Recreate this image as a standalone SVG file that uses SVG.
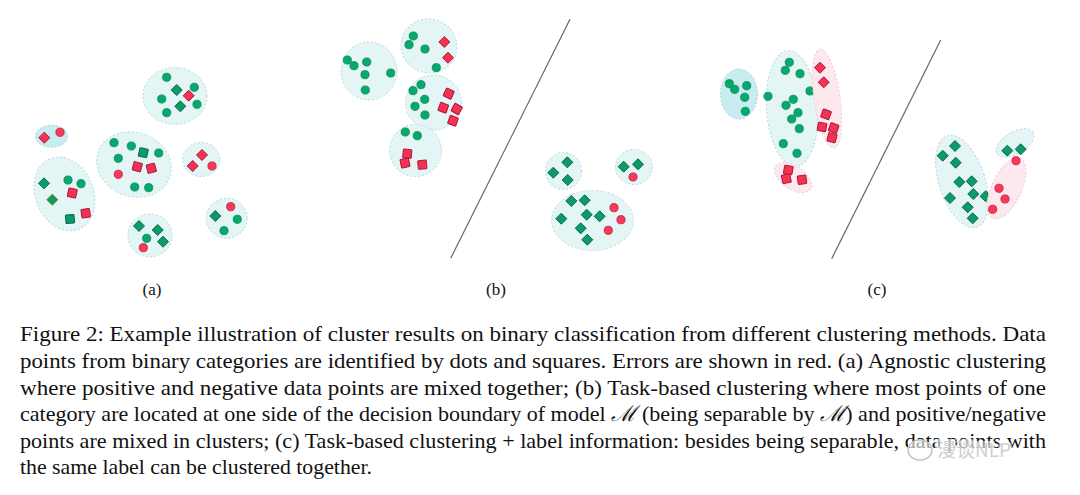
<svg xmlns="http://www.w3.org/2000/svg" xmlns:xlink="http://www.w3.org/1999/xlink" width="1080" height="495" viewBox="0 0 1080 495">
<style>
.cl{fill:#e3f5f5;stroke:#b9d9dc;stroke-width:1;stroke-dasharray:2 2}
.cd{fill:#c9ecf0;stroke:#a9d3d9;stroke-width:1;stroke-dasharray:2 2}
.cp{fill:#fde8ee;stroke:#f0c8d4;stroke-width:1;stroke-dasharray:2 2}
.g{fill:#06a86c;stroke:#0a8a58;stroke-width:0.8}
.gd{fill:#0b9a68;stroke:#086a47;stroke-width:1}
.r{fill:#f73a55;stroke:#c0184a;stroke-width:0.8}
.rd{fill:#f5334f;stroke:#a8164a;stroke-width:1}
.line{stroke:#666;stroke-width:1.2;fill:none}
.lab{font-family:"Liberation Serif",serif;font-size:17px;fill:#111}
.cap{font-family:"Liberation Serif",serif;font-size:21.8px;fill:#111}
</style>
<defs>
<circle id="c" r="4.1"/>
<polygon id="d" points="0,-5.5 5.5,0 0,5.5 -5.5,0"/>
<rect id="s" x="-4.3" y="-4.3" width="8.6" height="8.6" rx="0.8"/>
</defs>
<rect width="1080" height="495" fill="#fff"/>

<!-- Panel (a) -->
<g id="a-c1">
<ellipse class="cl" cx="175" cy="96" rx="32" ry="28.5"/>
<use href="#c" class="g" x="166.7" y="77.3"/>
<use href="#d" class="gd" x="176.7" y="90"/>
<use href="#c" class="g" x="194.3" y="87.3"/>
<use href="#d" class="rd" x="188.7" y="95.7"/>
<use href="#c" class="g" x="161.7" y="99"/>
<use href="#d" class="gd" x="180.3" y="106.3"/>
<use href="#c" class="g" x="197" y="104.3"/>
<use href="#c" class="g" x="166.7" y="112.7"/>
</g>
<g id="a-c2">
<ellipse class="cd" cx="51.5" cy="136.3" rx="16" ry="11"/>
<use href="#d" class="rd" x="44.3" y="137.7"/>
<use href="#c" class="r" x="60" y="132.3"/>
</g>
<g id="a-c3">
<ellipse class="cl" cx="134" cy="164.5" rx="38" ry="32" transform="rotate(20 134 164.5)"/>
<use href="#c" class="g" x="114" y="142.7"/>
<use href="#c" class="g" x="131.3" y="146"/>
<use href="#s" class="gd" transform="translate(143.3 152.7) rotate(12)"/>
<use href="#c" class="g" x="158.7" y="153"/>
<use href="#c" class="g" x="118.3" y="158.3"/>
<use href="#s" class="rd" transform="translate(137.3 166.7) rotate(15)"/>
<use href="#s" class="rd" transform="translate(151.3 168.3) rotate(-15)"/>
<use href="#c" class="r" x="118.3" y="174.3"/>
<use href="#c" class="g" x="134.7" y="187"/>
<use href="#c" class="g" x="148.7" y="187.7"/>
</g>
<g id="a-c4">
<ellipse class="cl" cx="201.3" cy="159.5" rx="18.5" ry="17"/>
<use href="#d" class="rd" x="202" y="155"/>
<use href="#d" class="rd" x="192.7" y="166"/>
<use href="#c" class="r" x="212" y="166"/>
</g>
<g id="a-c5">
<ellipse class="cl" cx="64.5" cy="194" rx="29" ry="38" transform="rotate(-22 64.5 194)"/>
<use href="#d" class="gd" x="44" y="183.3"/>
<use href="#c" class="g" x="68" y="180"/>
<use href="#c" class="g" x="81" y="183.7"/>
<use href="#s" class="rd" transform="translate(72.3 193) rotate(12)"/>
<use href="#d" class="gd" x="52.3" y="199.7" style="stroke:#6f8a10"/>
<use href="#s" class="gd" transform="translate(70 219) rotate(-5)"/>
<use href="#s" class="rd" transform="translate(85.7 213.3) rotate(-8)"/>
</g>
<g id="a-c6">
<ellipse class="cl" cx="150" cy="235.5" rx="22" ry="21.5"/>
<use href="#d" class="gd" x="139" y="226"/>
<use href="#d" class="gd" x="157.7" y="230"/>
<use href="#c" class="g" x="146.7" y="238.3"/>
<use href="#d" class="gd" x="163" y="241.7"/>
<use href="#c" class="r" x="143.3" y="247.7"/>
</g>
<g id="a-c7">
<ellipse class="cl" cx="226.7" cy="218.3" rx="20.5" ry="20"/>
<use href="#c" class="r" x="230.7" y="206.7"/>
<use href="#d" class="gd" x="215.3" y="216"/>
<use href="#c" class="g" x="237.3" y="219.3"/>
<use href="#c" class="g" x="224" y="230.7"/>
</g>

<!-- Decision boundaries -->
<g id="connectors">
<line class="line" x1="570" y1="19.3" x2="450.7" y2="258.3"/>
<line class="line" x1="940.7" y1="40" x2="831.7" y2="258.7"/>
</g>

<!-- Panel (b) -->
<g id="b-c1">
<ellipse class="cl" cx="369" cy="71" rx="28" ry="29"/>
<use href="#c" class="g" x="347.3" y="60"/>
<use href="#c" class="g" x="354" y="65.7"/>
<use href="#c" class="g" x="366.7" y="62"/>
<use href="#c" class="g" x="365" y="74.7"/>
<use href="#c" class="g" x="390.7" y="73"/>
<use href="#c" class="g" x="365.3" y="90"/>
</g>
<g id="b-c2">
<ellipse class="cl" cx="429" cy="46" rx="28" ry="27" transform="rotate(20 429 46)"/>
<use href="#c" class="g" x="413.3" y="36"/>
<use href="#c" class="g" x="409" y="44.7"/>
<use href="#c" class="g" x="425" y="49"/>
<use href="#d" class="rd" x="444.3" y="42"/>
<use href="#d" class="rd" x="448" y="57.7"/>
<use href="#c" class="g" x="436.3" y="67.7"/>
</g>
<g id="b-c3">
<ellipse class="cl" cx="433.5" cy="102.5" rx="28" ry="27.5"/>
<use href="#c" class="g" x="421" y="84.7"/>
<use href="#c" class="g" x="413" y="90.7"/>
<use href="#c" class="g" x="424.7" y="99.3"/>
<use href="#c" class="g" x="415" y="106.3"/>
<use href="#c" class="g" x="425" y="115"/>
<use href="#s" class="rd" transform="translate(448.7 93.7) rotate(25)"/>
<use href="#s" class="rd" transform="translate(443.3 107.7) rotate(20)"/>
<use href="#s" class="rd" transform="translate(456.7 109) rotate(30)"/>
<use href="#s" class="rd" transform="translate(453 120.7) rotate(20)"/>
</g>
<g id="b-c4">
<ellipse class="cl" cx="415.5" cy="150.5" rx="26" ry="26"/>
<use href="#c" class="g" x="405.3" y="132"/>
<use href="#c" class="g" x="417.3" y="135.7"/>
<use href="#s" class="rd" transform="translate(407.3 153.7) rotate(5)"/>
<use href="#s" class="rd" transform="translate(405 163) rotate(-12)"/>
<use href="#s" class="rd" transform="translate(422.3 164.7) rotate(-5)"/>
</g>
<g id="b-c5">
<ellipse class="cl" cx="563.5" cy="171" rx="18" ry="18.5"/>
<use href="#d" class="gd" x="567.3" y="162.3"/>
<use href="#d" class="gd" x="553.3" y="172.7"/>
<use href="#d" class="gd" x="567.7" y="180"/>
</g>
<g id="b-c6">
<ellipse class="cl" cx="634" cy="167" rx="18.5" ry="17.5"/>
<use href="#d" class="gd" x="623.7" y="166.7"/>
<use href="#d" class="gd" x="638" y="164.3"/>
<use href="#c" class="r" x="633" y="177"/>
</g>
<g id="b-c7">
<ellipse class="cl" cx="592.5" cy="220.5" rx="41" ry="30"/>
<use href="#d" class="gd" x="571.3" y="201"/>
<use href="#d" class="gd" x="584.7" y="200.3"/>
<use href="#d" class="gd" x="586.7" y="214.7"/>
<use href="#d" class="gd" x="599.7" y="216.3"/>
<use href="#d" class="gd" x="561.3" y="218.7"/>
<use href="#d" class="gd" x="580.7" y="228.3"/>
<use href="#d" class="gd" x="587.3" y="239.7"/>
<use href="#c" class="r" x="614" y="207.7"/>
<use href="#c" class="r" x="621" y="219.7"/>
<use href="#c" class="r" x="608.3" y="230.3"/>
</g>

<!-- Panel (c) -->
<g id="c-c1">
<ellipse class="cd" cx="739" cy="94" rx="18.5" ry="25"/>
<use href="#c" class="g" x="729.3" y="83.7"/>
<use href="#c" class="g" x="734.7" y="89.3"/>
<use href="#c" class="g" x="746.7" y="85.7"/>
<use href="#c" class="g" x="744.7" y="97.3"/>
<use href="#c" class="g" x="745.3" y="111.3"/>
</g>
<g id="c-c2">
<ellipse class="cl" cx="792" cy="108.5" rx="25.5" ry="58" transform="rotate(-4 792 108.5)"/>
<use href="#c" class="g" x="789.3" y="62.3"/>
<use href="#c" class="g" x="785.3" y="70.3"/>
<use href="#c" class="g" x="800" y="73.7"/>
<use href="#c" class="g" x="768" y="96.3"/>
<use href="#c" class="g" x="810" y="91"/>
<use href="#c" class="g" x="793.3" y="99.3"/>
<use href="#c" class="g" x="786" y="105.3"/>
<use href="#c" class="g" x="798" y="112.7"/>
<use href="#c" class="g" x="791.7" y="119"/>
<use href="#c" class="g" x="799.3" y="128.7"/>
<use href="#c" class="g" x="783.3" y="143.7"/>
<use href="#c" class="g" x="797" y="153.3"/>
</g>
<g id="c-c3">
<ellipse class="cp" cx="827" cy="98.5" rx="13" ry="50" transform="rotate(-8 827 98.5)"/>
<use href="#d" class="rd" x="820" y="67.7"/>
<use href="#d" class="rd" x="823.7" y="82.3"/>
<use href="#s" class="rd" transform="translate(826 114.3) rotate(20)"/>
<use href="#s" class="rd" transform="translate(822 127) rotate(10)"/>
<use href="#s" class="rd" transform="translate(833.7 128) rotate(20)"/>
<use href="#s" class="rd" transform="translate(832 137.7) rotate(15)"/>
</g>
<g id="c-c4">
<ellipse class="cp" cx="793" cy="177.5" rx="21" ry="11.5" transform="rotate(33 793 177.5)"/>
<use href="#s" class="rd" transform="translate(788.3 170) rotate(10)"/>
<use href="#s" class="rd" transform="translate(786.3 178.7) rotate(-12)"/>
<use href="#s" class="rd" transform="translate(802 179.7) rotate(-8)"/>
</g>
<g id="c-c5">
<ellipse class="cl" cx="962" cy="181.5" rx="23" ry="48" transform="rotate(-18 962 181.5)"/>
<use href="#d" class="gd" x="955" y="146"/>
<use href="#d" class="gd" x="942.7" y="155.7"/>
<use href="#d" class="gd" x="955.7" y="162.7"/>
<use href="#d" class="gd" x="959.3" y="182"/>
<use href="#d" class="gd" x="971.7" y="181.3"/>
<use href="#d" class="gd" x="973.3" y="194"/>
<use href="#d" class="gd" x="985.7" y="196.3"/>
<use href="#d" class="gd" x="950" y="198"/>
<use href="#d" class="gd" x="967.7" y="207.3"/>
<use href="#d" class="gd" x="972.7" y="218.3"/>
</g>
<g id="c-c6">
<ellipse class="cl" cx="1015" cy="143" rx="21" ry="11" transform="rotate(-30 1015 143)"/>
<use href="#d" class="gd" x="1007.3" y="150.7"/>
<use href="#d" class="gd" x="1020.7" y="149.3"/>
</g>
<g id="c-c7">
<ellipse class="cp" cx="1006.5" cy="188.5" rx="15" ry="33" transform="rotate(25 1006.5 188.5)"/>
<use href="#c" class="r" x="1016" y="160.7"/>
<use href="#c" class="r" x="999" y="188.3"/>
<use href="#c" class="r" x="1005" y="199"/>
<use href="#c" class="r" x="992.7" y="209.3"/>
</g>

<!-- Panel labels -->
<g id="labels">
<text class="lab" x="152" y="295" text-anchor="middle">(a)</text>
<text class="lab" x="496" y="295" text-anchor="middle">(b)</text>
<text class="lab" x="877" y="295" text-anchor="middle">(c)</text>
</g>

<!-- Caption -->
<g id="caption" class="cap">
<text x="20" y="341" textLength="1026" lengthAdjust="spacingAndGlyphs">Figure 2: Example illustration of cluster results on binary classification from different clustering methods. Data</text>
<text x="20" y="368" textLength="1026" lengthAdjust="spacingAndGlyphs">points from binary categories are identified by dots and squares. Errors are shown in red. (a) Agnostic clustering</text>
<text x="20" y="395" textLength="1026" lengthAdjust="spacingAndGlyphs">where positive and negative data points are mixed together; (b) Task-based clustering where most points of one</text>
<text x="20" y="421" textLength="1026" lengthAdjust="spacingAndGlyphs">category are located at one side of the decision boundary of model <tspan font-style="italic">ℳ</tspan> (being separable by <tspan font-style="italic">ℳ</tspan>) and positive/negative</text>
<text x="20" y="448" textLength="1026" lengthAdjust="spacingAndGlyphs">points are mixed in clusters; (c) Task-based clustering + label information: besides being separable, data points with</text>
<text x="20" y="474" textLength="352" lengthAdjust="spacingAndGlyphs">the same label can be clustered together.</text>
</g>

<!-- Watermark -->
<g id="watermark">
<ellipse cx="920" cy="450" rx="12" ry="10" fill="#fff" fill-opacity="0.6" stroke="#c4c4c4" stroke-width="1.5"/>
<text x="937" y="457" font-family="'Noto Sans CJK SC',sans-serif" font-size="19" fill="#cfcfcf" stroke="#ffffff" stroke-opacity="0.6" stroke-width="4" paint-order="stroke">漫谈NLP</text>
</g>
</svg>
